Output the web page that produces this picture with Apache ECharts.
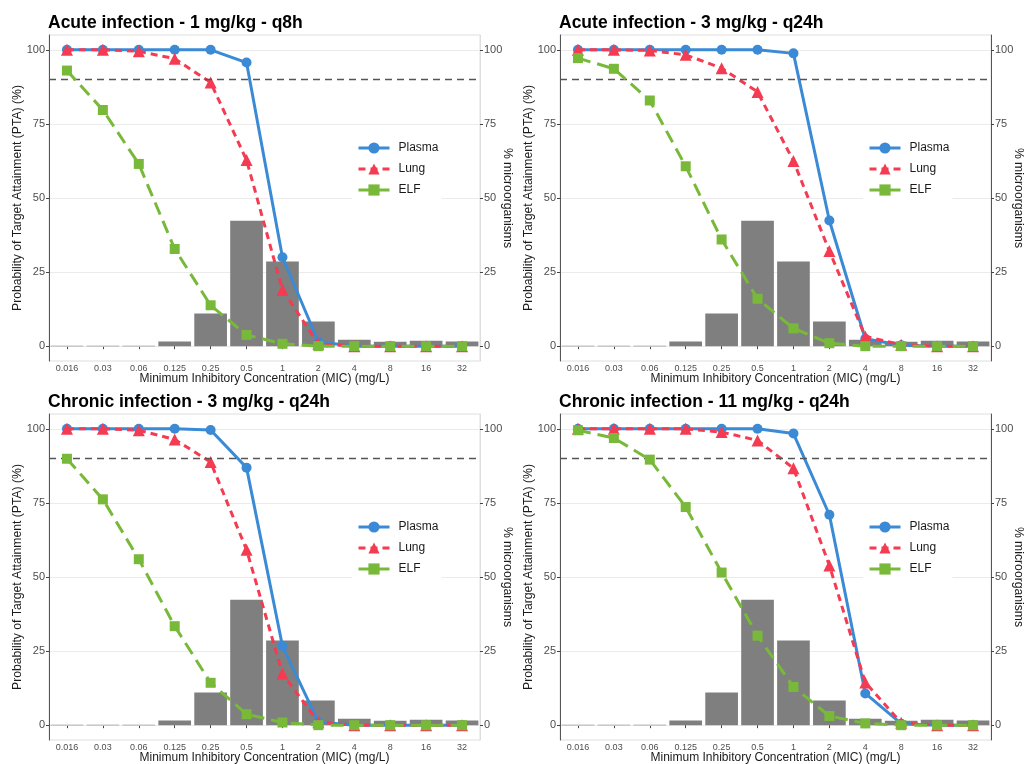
<!DOCTYPE html>
<html>
<head>
<meta charset="utf-8">
<script src="https://cdn.jsdelivr.net/npm/echarts@6/dist/echarts.min.js"></script>
<style>
  html, body { margin: 0; padding: 0; background: #fff; }
  #chart { width: 1025px; height: 764px; }
</style>
</head>
<body>
<div id="chart"></div>
<script>
// MIC categories and the share of microorganisms at each MIC (%)
const micLabels = ['0.016', '0.03', '0.06', '0.125', '0.25', '0.5', '1', '2', '4', '8', '16', '32'];
const micDistribution = [0, 0, 0, 1.6, 11, 42.3, 28.6, 8.3, 2.2, 1.5, 1.8, 1.6];
const yTicks = [0, 25, 50, 75, 100];
const targetPTA = 90;

const panelTitles = [
  'Acute infection - 1 mg/kg - q8h',
  'Acute infection - 3 mg/kg - q24h',
  'Chronic infection - 3 mg/kg - q24h',
  'Chronic infection - 11 mg/kg - q24h'
];

// PTA (%) per MIC
const acute1Plasma = [100, 100, 100, 100, 100, 95.7, 30, 1.5, 0, 0, 0, 0];
const acute1Lung = [100, 100, 99.5, 97, 89, 62.8, 19, 0.8, 0, 0, 0, 0];
const acute1Elf = [93, 79.7, 61.5, 32.8, 13.8, 3.8, 0.8, 0, 0, 0, 0, 0];

const acute3Plasma = [100, 100, 100, 100, 100, 100, 98.8, 42.4, 2.5, 0.3, 0, 0];
const acute3Lung = [100, 100, 99.8, 98.3, 93.8, 85.8, 62.5, 32.1, 3.3, 0.5, 0, 0];
const acute3Elf = [97.2, 93.6, 82.9, 60.7, 36, 16, 6, 1, 0, 0, 0, 0];

const chronic3Plasma = [100, 100, 100, 100, 99.6, 86.9, 26.7, 1.1, 0, 0, 0, 0];
const chronic3Lung = [100, 100, 99.5, 96.4, 88.8, 59.2, 17.4, 1, 0, 0, 0, 0];
const chronic3Elf = [89.9, 76.2, 56, 33.4, 14.3, 3.7, 0.9, 0, 0, 0, 0, 0];

const chronic11Plasma = [100, 100, 100, 100, 100, 100, 98.4, 71, 10.7, 0.5, 0, 0];
const chronic11Lung = [100, 100, 100, 100, 98.9, 96.1, 86.7, 53.9, 14.4, 0.8, 0, 0];
const chronic11Elf = [99.5, 96.9, 89.6, 73.6, 51.5, 30.2, 12.9, 3.1, 0.6, 0, 0, 0];

const panelData = [
  [acute1Plasma, acute1Lung, acute1Elf],
  [acute3Plasma, acute3Lung, acute3Elf],
  [chronic3Plasma, chronic3Lung, chronic3Elf],
  [chronic11Plasma, chronic11Lung, chronic11Elf]
];

const FONT = "'Liberation Sans', Arial, sans-serif";
const colors = { Plasma: '#3a8ad6', Lung: '#f43b52', ELF: '#79b93a' };
const gridPos = [
  { left: 49, top: 35, rightDark: false },
  { left: 560, top: 35, rightDark: true },
  { left: 49, top: 414, rightDark: false },
  { left: 560, top: 414, rightDark: true }
];
const GW = 431, GH = 326;

const grids = [], xAxes = [], yAxes = [], series = [], titles = [], legends = [];

gridPos.forEach((g, i) => {
  grids.push({
    left: g.left, top: g.top, width: GW, height: GH,
    outerBoundsMode: 'none', containLabel: false,
    show: true, borderColor: '#dedede', borderWidth: 1, backgroundColor: '#fff'
  });
  titles.push({
    text: panelTitles[i], left: g.left - 1, top: g.top - 21, padding: 0,
    textStyle: { fontFamily: FONT, fontSize: 17.5, fontWeight: 'bold', color: '#000' }
  });
  legends.push({
    data: ['Plasma', 'Lung', 'ELF'],
    orient: 'vertical', left: g.left + 303, top: g.top + 102,
    itemWidth: 31, itemHeight: 14, itemGap: 9,
    backgroundColor: '#fff', padding: [5, 3, 5, 5],
    lineStyle: { width: 3 },
    textStyle: { fontFamily: FONT, fontSize: 12, color: '#1a1a1a', padding: [0, 0, 0, 4] }
  });
  xAxes.push({
    type: 'category', gridIndex: i, data: micLabels,
    name: 'Minimum Inhibitory Concentration (MIC) (mg/L)',
    nameLocation: 'middle', nameGap: 12, nameMoveOverlap: false,
    nameTextStyle: { fontFamily: FONT, fontSize: 12, color: '#1a1a1a' },
    axisLine: { show: false },
    axisTick: { show: true, alignWithLabel: true, length: 3, lineStyle: { color: '#444' } },
    axisLabel: { interval: 0, margin: 3, fontFamily: FONT, fontSize: 9, color: '#4d4d4d' },
    splitLine: { show: false }
  });
  yAxes.push({
    type: 'value', gridIndex: i, position: 'left', min: -5, max: 105,
    name: 'Probability of Target Attainment (PTA) (%)',
    nameLocation: 'middle', nameGap: 25, nameMoveOverlap: false,
    nameTextStyle: { fontFamily: FONT, fontSize: 12.2, color: '#1a1a1a' },
    axisLine: { show: true, lineStyle: { color: '#555', width: 1 } },
    axisTick: { show: true, length: 3, customValues: yTicks, lineStyle: { color: '#444' } },
    axisLabel: { customValues: yTicks, margin: 4, fontFamily: FONT, fontSize: 11, color: '#4d4d4d' },
    splitLine: { show: true, lineStyle: { color: '#ebebeb', width: 1 } }
  });
  yAxes.push({
    type: 'value', gridIndex: i, position: 'right', min: -5, max: 105,
    name: '% microorganisms',
    nameLocation: 'middle', nameGap: 21, nameRotate: -90, nameMoveOverlap: false,
    nameTextStyle: { fontFamily: FONT, fontSize: 12.2, color: '#1a1a1a' },
    axisLine: { show: true, lineStyle: { color: g.rightDark ? '#555' : '#dedede', width: 1 } },
    axisTick: { show: true, length: 3, customValues: yTicks, lineStyle: { color: '#444' } },
    axisLabel: { customValues: yTicks, margin: 4, fontFamily: FONT, fontSize: 11, color: '#4d4d4d' },
    splitLine: { show: false }
  });

  // distribution of microorganisms
  series.push({
    type: 'bar', name: 'MIC distribution', xAxisIndex: i, yAxisIndex: 2 * i + 1,
    barCategoryGap: '9%', z: 1, silent: true,
    itemStyle: { color: '#7f7f7f' },
    data: micDistribution.map(v => v === 0
      ? { value: v, itemStyle: { borderColor: '#c6c6c6', borderWidth: 1 } }
      : v)
  });

  const [plasma, lung, elf] = panelData[i];
  series.push({
    type: 'line', name: 'Plasma', xAxisIndex: i, yAxisIndex: 2 * i, z: 3,
    data: plasma, symbol: 'circle', symbolSize: 10,
    lineStyle: { color: colors.Plasma, width: 3 },
    itemStyle: { color: colors.Plasma },
    markLine: {
      silent: true, symbol: 'none', label: { show: false },
      lineStyle: { color: '#555', width: 1.3, type: [7, 5] },
      data: [{ yAxis: targetPTA }]
    }
  });
  series.push({
    type: 'line', name: 'Lung', xAxisIndex: i, yAxisIndex: 2 * i, z: 4,
    data: lung, symbol: 'triangle', symbolSize: 12,
    lineStyle: { color: colors.Lung, width: 3, type: [7, 5] },
    itemStyle: { color: colors.Lung }
  });
  series.push({
    type: 'line', name: 'ELF', xAxisIndex: i, yAxisIndex: 2 * i, z: 5,
    data: elf, symbol: 'rect', symbolSize: 10,
    lineStyle: { color: colors.ELF, width: 3, type: [13, 7] },
    itemStyle: { color: colors.ELF }
  });
});

const chart = echarts.init(document.getElementById('chart'), null, { renderer: 'canvas' });
chart.setOption({
  animation: false,
  backgroundColor: '#fff',
  title: titles,
  legend: legends,
  grid: grids,
  xAxis: xAxes,
  yAxis: yAxes,
  series: series
});
</script>
</body>
</html>
